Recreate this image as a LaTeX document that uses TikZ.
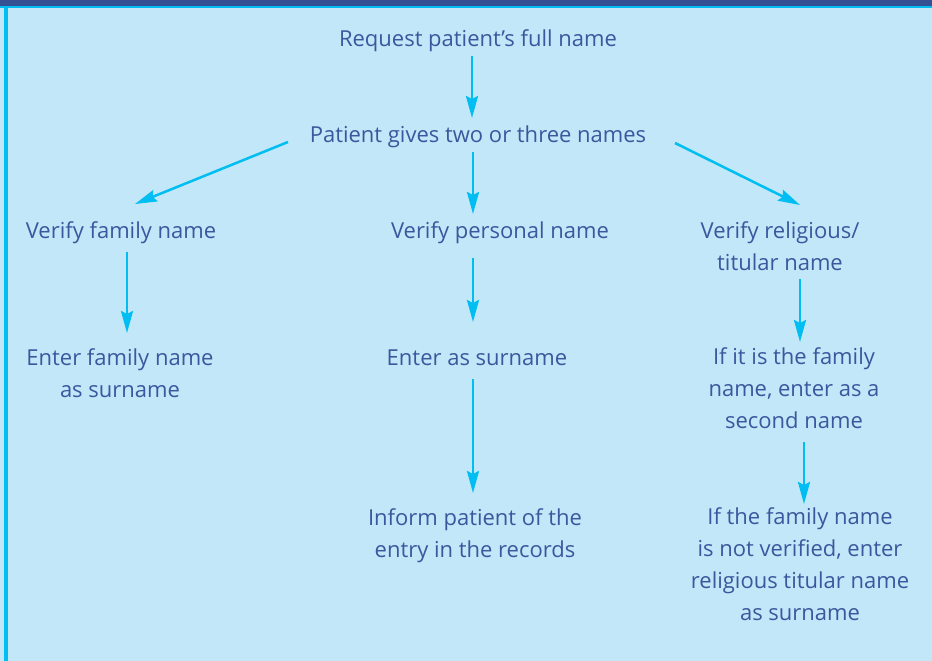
\documentclass[tikz,border=0pt]{standalone}
\usepackage{fontspec}
\setmainfont{Open Sans}
\usetikzlibrary{arrows.meta, positioning}
\definecolor{boxbg}{HTML}{C2E7F8}
\definecolor{barblue}{HTML}{354F93}
\definecolor{linecyan}{HTML}{00BDF2}
\definecolor{txtblue}{HTML}{3B579E}

\begin{document}
\begin{tikzpicture}[x=1pt, y=-1pt,
		txt/.style={text=txtblue, font=\fontsize{22}{32}\selectfont, align=center, anchor=base, inner sep=2pt},
		flow/.style={draw=linecyan, line width=2.5pt, -{Stealth[length=22pt, width=12pt, inset=3pt]}}]
			% panel and frame
			\useasboundingbox (0,0) rectangle (932,661);
			\fill[boxbg] (0,0) rectangle (932,661);
			\fill[barblue] (0,0) rectangle (932,6);
			\fill[linecyan] (0,6) rectangle (932,8.5);
			\fill[linecyan] (4,6) rectangle (8,661);
			
			% steps (base = last line)
			\node[txt] (req) at (478,47) {Request patient’s full name};
			\node[txt] (pat) at (478,142) {Patient gives two or three names};
			\node[txt] (vfam) at (121,238) {Verify family name};
			\node[txt] (vpers) at (500,238) {Verify personal name};
			\node[txt] (vrel) at (780,270) {Verify religious/\\titular name};
			\node[txt] (efam) at (120,397) {Enter family name\\as surname};
			\node[txt] (enter) at (477,365) {Enter as surname};
			\node[txt] (ifit) at (794,428) {If it is the family\\name, enter as a\\second name};
			\node[txt] (inform) at (475,557) {Inform patient of the\\entry in the records};
			\node[txt] (ifnot) at (800,620) {If the family name\\is not verified, enter\\religious titular name\\as surname};
			
			% arrows
			\draw[flow] ([shift={(-6,9)}]req.base) -- ([shift={(-6,-24)}]pat.base);
			\draw[flow] ([shift={(-5,10)}]pat.base) -- ([shift={(-27,-24)}]vpers.base);
			\draw[flow] ([shift={(-190,0)}]pat.base) -- ([shift={(14,-34)}]vfam.base);
			\draw[flow] ([shift={(197,1)}]pat.base) -- ([shift={(20,-65)}]vrel.base);
			\draw[flow] ([shift={(6,14)}]vfam.base) -- ([shift={(7,-64)}]efam.base);
			\draw[flow] ([shift={(-27,20)}]vpers.base) -- ([shift={(-4,-43)}]enter.base);
			\draw[flow] ([shift={(-4,14)}]enter.base) -- ([shift={(-2,-64)}]inform.base);
			\draw[flow] ([shift={(20,9)}]vrel.base) -- ([shift={(6,-86)}]ifit.base);
			\draw[flow] ([shift={(10,14)}]ifit.base) -- ([shift={(4,-116)}]ifnot.base);
		\end{tikzpicture}
\end{document}
